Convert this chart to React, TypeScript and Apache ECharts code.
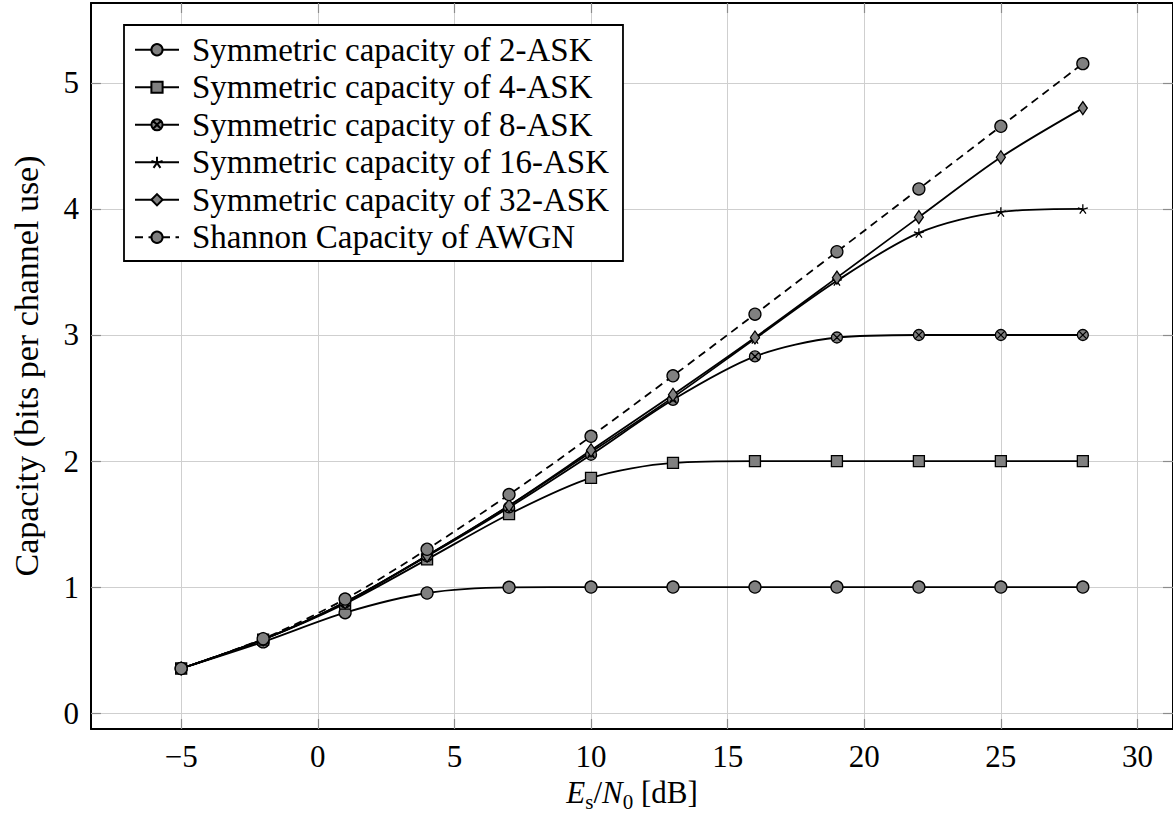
import React, { useEffect, useRef } from "react";
import * as echarts from "echarts";

const snrDb = [-5, -2, 1, 4, 7, 10, 13, 16, 19, 22, 25, 28];
const ask2 = [0.354, 0.565, 0.797, 0.953, 0.998, 1.0, 1.0, 1.0, 1.0, 1.0, 1.0, 1.0];
const ask4 = [0.354, 0.583, 0.868, 1.22, 1.578, 1.866, 1.985, 2.0, 2.0, 2.0, 2.0, 2.0];
const ask8 = [0.354, 0.584, 0.878, 1.245, 1.632, 2.05, 2.486, 2.83, 2.98, 3.0, 3.0, 3.0];
const ask16 = [0.354, 0.585, 0.88, 1.25, 1.645, 2.07, 2.505, 2.97, 3.43, 3.81, 3.976, 4.0];
const ask32 = [0.354, 0.585, 0.88, 1.25, 1.647, 2.085, 2.526, 2.98, 3.455, 3.935, 4.41, 4.8];
const awgn = [0.354, 0.59, 0.905, 1.3, 1.734, 2.196, 2.676, 3.165, 3.661, 4.159, 4.656, 5.153];

const seriesNames = [
  "Symmetric capacity of 2-ASK",
  "Symmetric capacity of 4-ASK",
  "Symmetric capacity of 8-ASK",
  "Symmetric capacity of 16-ASK",
  "Symmetric capacity of 32-ASK",
  "Shannon Capacity of AWGN",
];

const xTicks = [-5, 0, 5, 10, 15, 20, 25, 30];
const yTicks = [0, 1, 2, 3, 4, 5];
const xRange = [-8.3, 31.3];
const yRange = [-0.126, 5.634];

const FONT = "Liberation Serif";
const GRAY = "#808080";

const OTIMES =
  "path://M10,0 A10,10 0 1,1 10,20 A10,10 0 1,1 10,0 Z M2.93,2.93 L17.07,17.07 M17.07,2.93 L2.93,17.07";
const ASTERISK =
  "path://M10,10 L10,0 M10,10 L19.51,6.91 M10,10 L15.88,18.09 M10,10 L4.12,18.09 M10,10 L0.49,6.91";

export default function App() {
  const ref = useRef<HTMLDivElement>(null);

  useEffect(() => {
    if (!ref.current) return;
    const chart = echarts.init(ref.current, null, { renderer: "svg" });

    const mk = (
      name: string,
      vals: number[],
      symbol: string,
      size: number | number[],
      dashed = false
    ) => ({
      name,
      type: "line",
      xAxisIndex: 0,
      yAxisIndex: 0,
      data: snrDb.map((x, i) => [x, vals[i]]),
      smooth: 0.3,
      symbol,
      symbolSize: size,
      symbolKeepAspect: true,
      showAllSymbol: true,
      lineStyle: { color: "#000", width: 1.8, type: dashed ? [8, 5.5] : "solid" },
      itemStyle: { color: GRAY, borderColor: "#000", borderWidth: 1.3 },
      emphasis: { disabled: true },
    });

    const labelFmt = (v: number) => (v < 0 ? "\u2212" + String(-v) : String(v));

    const tickStyle = { inside: true, length: 10, lineStyle: { color: "#8c8c8c", width: 1.2 } };
    const axisLine = { show: true, onZero: false, lineStyle: { color: "#000", width: 2 } };

    chart.setOption({
      animation: false,
      textStyle: { fontFamily: FONT },
      grid: { left: 91, right: -2, top: 3, bottom: 92, containLabel: false },
      legend: {
        orient: "vertical",
        left: 124,
        top: 25,
        itemWidth: 44,
        itemHeight: 14,
        itemGap: 0,
        padding: [6, 14, 5, 10],
        backgroundColor: "#fff",
        borderColor: "#000",
        borderWidth: 1.8,
        selectedMode: false,
        textStyle: {
          fontFamily: FONT,
          fontSize: 33,
          color: "#000",
          lineHeight: 37.5,
          padding: [0, 0, 0, 8],
        },
        data: seriesNames,
      },
      xAxis: [
        {
          type: "value",
          position: "bottom",
          min: xRange[0],
          max: xRange[1],
          axisLine,
          axisTick: { ...tickStyle, customValues: xTicks },
          axisLabel: {
            customValues: xTicks,
            formatter: labelFmt,
            fontFamily: FONT,
            fontSize: 31,
            color: "#000",
            margin: 12,
          },
          splitLine: { show: true, lineStyle: { color: "#cfcfcf", width: 1 } },
          name: "{i|E}{s|s}{n|/}{i|N}{s|0}{n| [dB]}",
          nameLocation: "middle",
          nameGap: 28,
          nameTextStyle: {
            rich: {
              i: { fontFamily: FONT, fontStyle: "italic", fontSize: 31, color: "#000", verticalAlign: "top", lineHeight: 36 },
              n: { fontFamily: FONT, fontSize: 31, color: "#000", verticalAlign: "top", lineHeight: 36 },
              s: { fontFamily: FONT, fontSize: 21, color: "#000", verticalAlign: "bottom", lineHeight: 36 },
            },
          },
        },
        {
          type: "value",
          position: "top",
          min: xRange[0],
          max: xRange[1],
          axisLine,
          axisTick: { ...tickStyle, customValues: xTicks },
          axisLabel: { show: false },
          splitLine: { show: false },
        },
      ],
      yAxis: [
        {
          type: "value",
          position: "left",
          min: yRange[0],
          max: yRange[1],
          axisLine,
          axisTick: { ...tickStyle, customValues: yTicks },
          axisLabel: {
            customValues: yTicks,
            formatter: labelFmt,
            fontFamily: FONT,
            fontSize: 31,
            color: "#000",
            margin: 12,
          },
          splitLine: { show: true, lineStyle: { color: "#cfcfcf", width: 1 } },
          name: "Capacity (bits per channel use)",
          nameLocation: "middle",
          nameRotate: 90,
          nameGap: 48,
          nameTextStyle: { fontFamily: FONT, fontSize: 34, color: "#000" },
        },
        {
          type: "value",
          position: "right",
          min: yRange[0],
          max: yRange[1],
          axisLine,
          axisTick: { ...tickStyle, customValues: yTicks },
          axisLabel: { show: false },
          splitLine: { show: false },
        },
      ],
      series: [
        mk(seriesNames[0], ask2, "circle", 12),
        mk(seriesNames[1], ask4, "rect", 11),
        mk(seriesNames[2], ask8, OTIMES, 11),
        mk(seriesNames[3], ask16, ASTERISK, 10),
        mk(seriesNames[4], ask32, "diamond", [9, 13]),
        mk(seriesNames[5], awgn, "circle", 12, true),
      ],
    });

    return () => chart.dispose();
  }, []);

  return (
    <div
      ref={ref}
      style={{ position: "fixed", left: 0, top: 0, width: 1173, height: 821, background: "#fff" }}
    />
  );
}
